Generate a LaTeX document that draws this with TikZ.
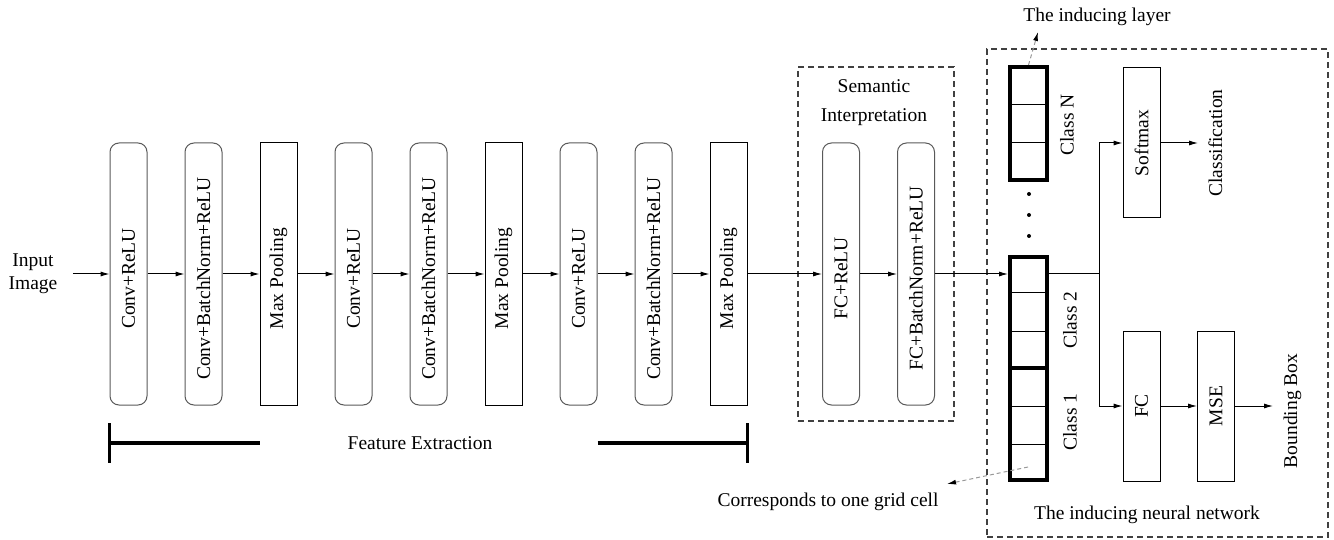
\documentclass[tikz,border=0pt]{standalone}
\usepackage{fontspec}
\setmainfont{Liberation Serif}
\usetikzlibrary{arrows.meta,calc}
\newcommand{\vtxt}[1]{\rotatebox{90}{#1}}
\newcommand{\vtxtlow}[1]{\rotatebox{90}{#1\hspace*{9pt}}}
\begin{document}
\begin{tikzpicture}[x=1pt,y=-1pt,
  font=\fontsize{19.5}{23}\selectfont,
  line width=1pt,
  arr/.style={-{Latex[length=9pt,width=5pt]}, line width=1pt},
  ptr/.style={draw=black!40, dash pattern=on 4pt off 3pt, line width=1pt,
              -{Latex[length=9pt,width=5pt,color=black]}},
  layer/.style={draw=black!65, rounded corners=9pt, minimum width=37pt,
                minimum height=262pt, inner sep=0pt},
  pool/.style={draw=black, minimum width=37pt, minimum height=262pt, inner sep=0pt},
  plain/.style={draw=black, minimum width=37pt, minimum height=150pt, inner sep=0pt},
  dbox/.style={draw=black!75, line width=1.2pt, dash pattern=on 6pt off 4pt,
               inner sep=0pt},
  gridbox/.style={draw=black, line width=4pt, minimum width=37pt, inner sep=0pt},
  bar/.style={line width=3.5pt},
  rot/.style={inner xsep=10pt, inner ysep=0pt}]
\useasboundingbox (0,0) rectangle (1334,540);

% feature extraction layers
\node[align=center, inner xsep=15pt] (inp) at (33,274) {Input\\Image};
\node[layer] (c1) at (128.5,274) {\vtxtlow{Conv+ReLU}};
\node[layer] (c2) at (203.5,274) {\vtxtlow{Conv+BatchNorm+ReLU}};
\node[pool]  (c3) at (278.5,274) {\vtxtlow{Max Pooling}};
\node[layer] (c4) at (353.5,274) {\vtxtlow{Conv+ReLU}};
\node[layer] (c5) at (428.5,274) {\vtxtlow{Conv+BatchNorm+ReLU}};
\node[pool]  (c6) at (503.5,274) {\vtxtlow{Max Pooling}};
\node[layer] (c7) at (578.5,274) {\vtxtlow{Conv+ReLU}};
\node[layer] (c8) at (653.5,274) {\vtxtlow{Conv+BatchNorm+ReLU}};
\node[pool]  (c9) at (728.5,274) {\vtxtlow{Max Pooling}};

% semantic interpretation
\node[dbox, minimum width=156pt, minimum height=354pt] (sem) at (876,244) {};
\node[align=center, font=\fontsize{19.5}{29}\selectfont] (semt) at (874,103) {Semantic\\Interpretation};
\node[layer] (f1) at (841,274) {\vtxtlow{FC+ReLU}};
\node[layer] (f2) at (916,274) {\vtxtlow{FC+BatchNorm+ReLU}};

% inducing neural network
\node[dbox, minimum width=341pt, minimum height=488pt] (ind) at (1157.5,293) {};
\node (lay) at (1097,17) {The inducing layer};
\node (net) at (1147,515) {The inducing neural network};
\node (cor) at (828,502) {Corresponds to one grid cell};

\node[gridbox, minimum height=113pt] (gN) at (1028.5,123.5) {};
\node[gridbox, minimum height=111pt] (g2) at (1028.5,312.5) {};
\node[gridbox, minimum height=112pt] (g1) at (1028.5,424) {};
\draw (1010,105) -- (1047,105);
\draw (1010,143) -- (1047,143);
\draw (1010,293) -- (1047,293);
\draw (1010,331) -- (1047,331);
\draw (1010,406) -- (1047,406);
\draw (1010,444) -- (1047,444);
\fill (1029,194) circle (2pt);
\fill (1029,215) circle (2pt);
\fill (1029,236) circle (2pt);

\node (clN) at (1067,125) {\vtxt{Class N}};
\node (cl2) at (1070,320) {\vtxt{Class 2}};
\node (cl1) at (1070,422) {\vtxt{Class 1}};

\node[plain] (soft) at (1141.5,143) {\vtxt{Softmax}};
\node[plain] (fc)   at (1141.5,406) {\vtxt{FC}};
\node[plain] (mse)  at (1216,406)   {\vtxt{MSE}};
\node[rot, anchor=west] (cls) at (1198,143) {\vtxt{Classification}};
\node[rot, anchor=west] (bbx) at (1273,411) {\vtxt{Bounding Box}};

% main flow
\draw[arr] (inp) -- (c1);
\draw[arr] (c1) -- (c2);
\draw[arr] (c2) -- (c3);
\draw[arr] (c3) -- (c4);
\draw[arr] (c4) -- (c5);
\draw[arr] (c5) -- (c6);
\draw[arr] (c6) -- (c7);
\draw[arr] (c7) -- (c8);
\draw[arr] (c8) -- (c9);
\draw[arr] (c9) -- (f1);
\draw[arr] (f1) -- (f2);
\draw[arr] (f2.east) -- (f2.east -| g2.west);

% heads
\coordinate (br) at (1099,274);
\draw (g2.east |- br) -- (br);
\draw[arr] (br) |- (soft.west);
\draw[arr] (br) |- (fc.west);
\draw[arr] (soft.east) -- (cls.west);
\draw[arr] (fc) -- (mse);
\draw[arr] (mse.east) -- (mse.east -| bbx.west);

% pointers
\coordinate (layTip) at (1038,32);
\coordinate (cellP) at (1028,467);
\coordinate (corTip) at (947,484);
\draw[ptr] (gN.north) -- (layTip);
\draw[ptr] (cellP) -- (corTip);

% feature extraction bracket
\node (fx) at (420,443) {Feature Extraction};
\coordinate (fxl) at (c1.west |- fx);
\coordinate (fxr) at (c9.east |- fx);
\draw[bar] ($(fxl)+(0,-20)$) -- ($(fxl)+(0,20)$);
\draw[bar] (fxl) -- (c3.west |- fxl);
\draw[bar] (c7.east |- fxr) -- (fxr);
\draw[bar] ($(fxr)+(0,-20)$) -- ($(fxr)+(0,20)$);
\end{tikzpicture}
\end{document}
